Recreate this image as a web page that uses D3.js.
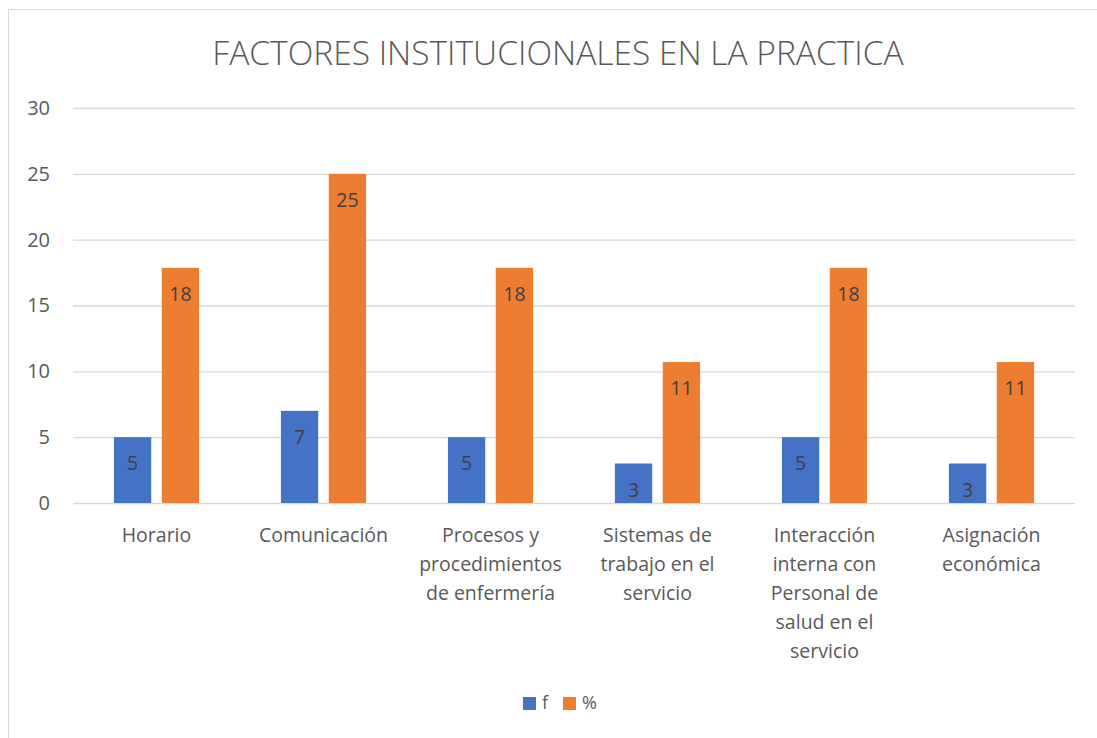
<!DOCTYPE html>
<html>
<head>
<meta charset="utf-8">
<script src="https://cdn.jsdelivr.net/npm/d3@7"></script>
<style>
  body { margin: 0; background: #fff; }
  text { font-family: "Open Sans", "Noto Sans", sans-serif; }
</style>
</head>
<body>
<svg id="chart" width="1097" height="738"></svg>
<script>
// chart data
const categories = [
  "Horario|",
  "Comunicación",
  "Procesos y|procedimientos|de enfermería",
  "Sistemas de|trabajo en el|servicio",
  "Interacción|interna con|Personal de|salud en el|servicio",
  "Asignación|económica"
];
const fValues = [5, 7, 5, 3, 5, 3];
const pctValues = [17.86, 25, 17.86, 10.71, 17.86, 10.71];
const seriesNames = ["f", "%"];
const yTickValues = [0, 5, 10, 15, 20, 25, 30];

// colors
const blue = "#4472c4";
const orange = "#ed7d31";
const textColor = "#595959";
const gridColor = "#d9d9d9";

const svg = d3.select("#chart");

// outer chart border
svg.append("rect")
  .attr("x", 8.5).attr("y", 9.5)
  .attr("width", 1100).attr("height", 740)
  .attr("fill", "none")
  .attr("stroke", gridColor);

const margin = { left: 73, right: 22, top: 108, bottom: 235 };
const width = 1097 - margin.left - margin.right;
const height = 738 - margin.top - margin.bottom;

const g = svg.append("g")
  .attr("transform", "translate(" + margin.left + "," + margin.top + ")");

// scales
let yScale = d3.scaleLinear().domain([0, 30]).range([height, 0]);

let xScale = d3.scaleBand()
  .domain(d3.range(categories.length))
  .range([0, width])
  .paddingInner(0.49)
  .paddingOuter(0.245);

let xSub = d3.scaleBand()
  .domain(seriesNames)
  .range([0, xScale.bandwidth()])
  .paddingInner(0.22);

// grid lines
let grid = d3.axisLeft(yScale)
  .tickValues(yTickValues)
  .tickSize(-width)
  .tickFormat("");

g.append("g")
  .attr("class", "grid")
  .call(grid)
  .call(s => s.select(".domain").remove())
  .selectAll("line")
  .attr("stroke", gridColor)
  .attr("stroke-width", 1.3);

// y axis labels
let yAxis = d3.axisLeft(yScale)
  .tickValues(yTickValues)
  .tickSize(0)
  .tickPadding(23);

g.append("g")
  .call(yAxis)
  .call(s => s.select(".domain").remove())
  .selectAll("text")
  .attr("fill", textColor)
  .style("font-size", "20px");

// bars
const rows = categories.map((c, i) => ({ i: i, values: [fValues[i], pctValues[i]] }));

const groups = g.selectAll(".cat")
  .data(rows)
  .enter().append("g")
  .attr("class", "cat")
  .attr("transform", d => "translate(" + xScale(d.i) + ",0)");

groups.selectAll("rect")
  .data(d => d.values.map((v, k) => ({ key: seriesNames[k], v: v })))
  .enter().append("rect")
  .attr("x", d => xSub(d.key))
  .attr("width", xSub.bandwidth())
  .attr("y", d => yScale(d.v))
  .attr("height", d => height - yScale(d.v))
  .attr("fill", d => d.key === "f" ? blue : orange);

// data labels, inside end
groups.selectAll(".lbl")
  .data(d => d.values.map((v, k) => ({ key: seriesNames[k], v: v })))
  .enter().append("text")
  .attr("class", "lbl")
  .attr("x", d => xSub(d.key) + xSub.bandwidth() / 2)
  .attr("y", d => yScale(d.v) + 28)
  .attr("text-anchor", "middle")
  .attr("dominant-baseline", "middle")
  .attr("fill", "#404040")
  .style("font-size", "19.5px")
  .text(d => d3.format(".0f")(d.v));

// category labels (wrapped)
const catLabels = g.selectAll(".catlbl")
  .data(categories)
  .enter().append("text")
  .attr("class", "catlbl")
  .attr("text-anchor", "middle")
  .attr("fill", textColor)
  .style("font-size", "19.5px")
  .attr("transform", (d, i) => "translate(" + (xScale(i) + xScale.bandwidth() / 2) + "," + (height + 39) + ")");

catLabels.selectAll("tspan")
  .data(d => d.split("|").filter(s => s.length))
  .enter().append("tspan")
  .attr("x", 0)
  .attr("dy", (d, i) => i === 0 ? 0 : 29)
  .text(d => d);

// title
svg.append("text")
  .attr("x", 558)
  .attr("y", 65)
  .attr("text-anchor", "middle")
  .attr("fill", textColor)
  .style("font-size", "33.5px")
  .style("font-weight", 300)
  .text("FACTORES INSTITUCIONALES EN LA PRACTICA");

// legend
const legend = svg.append("g").attr("transform", "translate(523,697)");
const legendX = [0, 40];
seriesNames.forEach((name, k) => {
  const item = legend.append("g").attr("transform", "translate(" + legendX[k] + ",0)");
  item.append("rect")
    .attr("width", 13).attr("height", 13)
    .attr("fill", k === 0 ? blue : orange);
  item.append("text")
    .attr("x", 19).attr("y", 7)
    .attr("dominant-baseline", "middle")
    .attr("fill", textColor)
    .style("font-size", "18px")
    .text(name);
});
</script>
</body>
</html>
